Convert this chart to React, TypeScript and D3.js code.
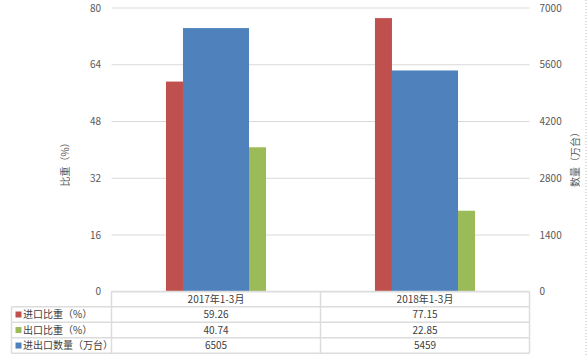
import React from "react";
import * as d3 from "d3";

const categories = ["2017年1-3月", "2018年1-3月"];
const importShare = [59.26, 77.15];
const exportShare = [40.74, 22.85];
const totalQty = [6505, 5459];
const leftTicks = [0, 16, 32, 48, 64, 80];
const rightTicks = [0, 1400, 2800, 4200, 5600, 7000];
const seriesNames = ["进口比重（%）", "出口比重（%）", "进出口数量（万台）"];
const seriesColors = ["#C0504D", "#9BBB59", "#4F81BD"];
const seriesValues = [importShare, exportShare, totalQty];

const W = 588;
const H = 356;
const plotL = 111.5;
const plotR = 529.5;
const plotT = 8;
const plotB = 291.8;
const tableL = 11.5;
const rowLines = [291.5, 306.7, 322.3, 337.8, 353.3];
const FONT = "'Noto Sans CJK SC', 'Noto Sans', sans-serif";

export default function App() {
  const x = d3.scaleBand<string>().domain(categories).range([plotL, plotR]).paddingInner(0.684).paddingOuter(0.342);
  const yL = d3.scaleLinear().domain([0, 80]).range([plotB, plotT]);
  const yR = d3.scaleLinear().domain([0, 7000]).range([plotB, plotT]);
  const bw = x.bandwidth();
  const sw = bw * (17 / 66);
  const step = x.step();

  return (
    <svg width={W} height={H} style={{ position: "absolute", left: 0, top: 0, background: "#fff" }} fontFamily={FONT}>
      {/* gridlines */}
      {leftTicks.map((t) => (
        <line key={"g" + t} x1={plotL} x2={plotR} y1={yL(t)} y2={yL(t)} stroke="#D9D9D9" strokeWidth={1} />
      ))}
      {/* left tick labels */}
      {leftTicks.map((t) => (
        <text key={"l" + t} x={101} y={yL(t)} dy="0.35em" textAnchor="end" fontSize={10} fill="#595959">{t}</text>
      ))}
      {rightTicks.map((t) => (
        <text key={"r" + t} x={539.5} y={yR(t)} dy="0.35em" textAnchor="start" fontSize={10} fill="#595959">{t}</text>
      ))}
      <text transform={`translate(69,162) rotate(-90)`} textAnchor="middle" fontSize={10} fill="#595959">比重（%）</text>
      <text transform={`translate(579,157) rotate(-90)`} textAnchor="middle" fontSize={10} fill="#595959">数量（万台）</text>

      {/* bars */}
      {categories.map((c, i) => {
        const bx = x(c)!;
        return (
          <g key={c}>
            <rect x={bx - sw} width={sw} y={yL(importShare[i])} height={plotB - yL(importShare[i])} fill={seriesColors[0]} />
            <rect x={bx + bw} width={sw} y={yL(exportShare[i])} height={plotB - yL(exportShare[i])} fill={seriesColors[1]} />
            <rect x={bx} width={bw} y={yR(totalQty[i])} height={plotB - yR(totalQty[i])} fill={seriesColors[2]} />
          </g>
        );
      })}

      {/* data table */}
      <g stroke="#DCDCDC" strokeWidth={1.5}>
        <line x1={plotL} x2={plotR} y1={rowLines[0]} y2={rowLines[0]} />
        {rowLines.slice(1).map((ly, i) => (
          <line key={"rl" + i} x1={tableL} x2={plotR} y1={ly} y2={ly} />
        ))}
        <line x1={tableL} x2={tableL} y1={rowLines[1]} y2={rowLines[4]} />
        {[plotL, plotL + step, plotR].map((lx, i) => (
          <line key={"vl" + i} x1={lx} x2={lx} y1={rowLines[0]} y2={rowLines[4]} />
        ))}
      </g>
      {categories.map((c, i) => (
        <text key={"h" + c} x={x(c)! + bw / 2} y={(rowLines[0] + rowLines[1]) / 2} dy="0.35em" textAnchor="middle" fontSize={10} fill="#404040">{c}</text>
      ))}
      {seriesNames.map((name, r) => {
        const cy = (rowLines[r + 1] + rowLines[r + 2]) / 2;
        return (
          <g key={name}>
            <rect x={15.5} y={cy - 3} width={6} height={6} fill={seriesColors[r]} />
            <text x={23} y={cy} dy="0.35em" fontSize={10} fill="#404040">{name}</text>
            {categories.map((c, i) => (
              <text key={c} x={x(c)! + bw / 2} y={cy} dy="0.35em" textAnchor="middle" fontSize={10} fill="#404040">
                {seriesValues[r][i]}
              </text>
            ))}
          </g>
        );
      })}

      {/* dotted right border */}
      <line x1={586} x2={586} y1={0} y2={H} stroke="#BFBFBF" strokeWidth={1} strokeDasharray="1,2" />
    </svg>
  );
}
